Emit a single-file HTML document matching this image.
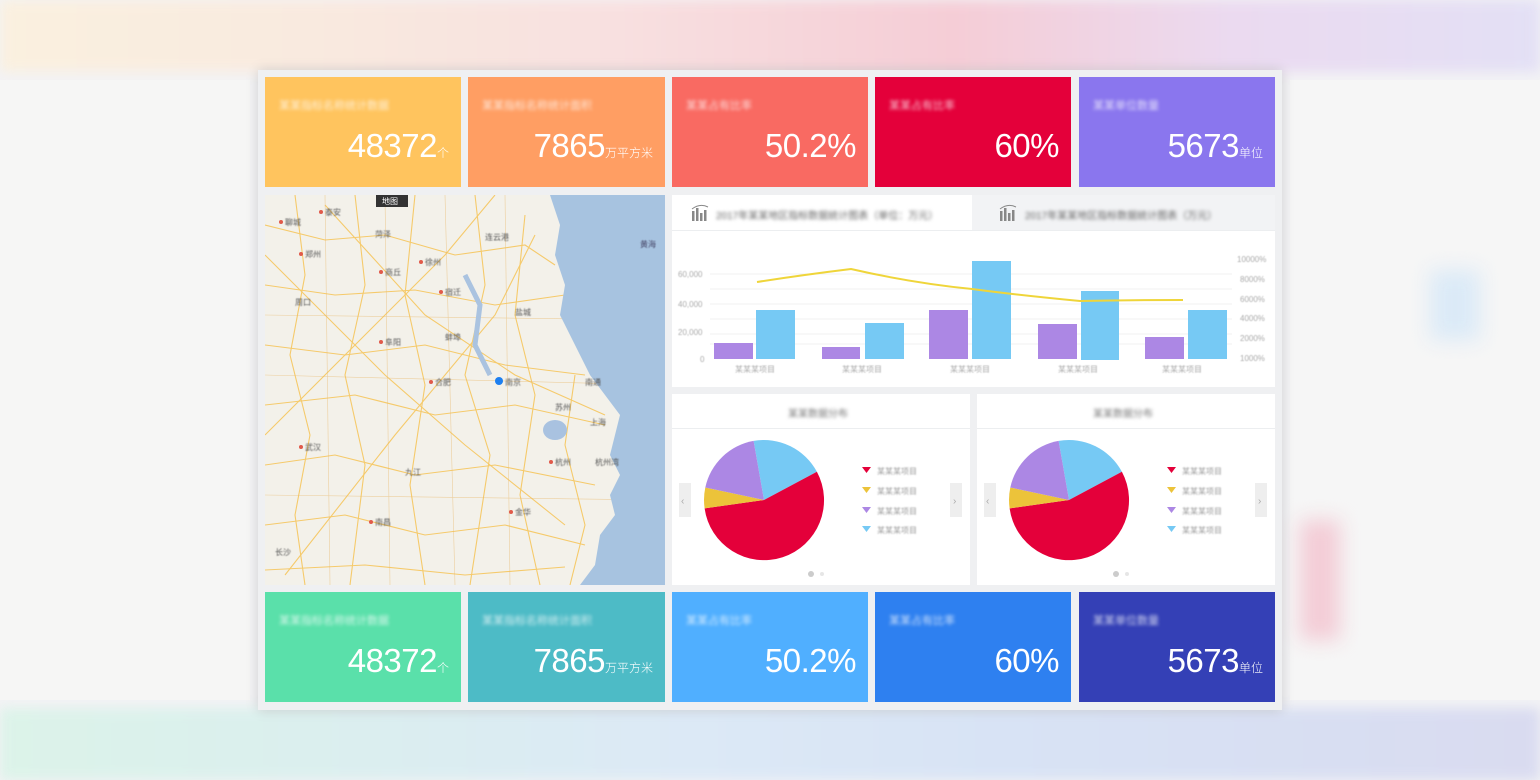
<!DOCTYPE html>
<html><head><meta charset="utf-8"><style>
*{margin:0;padding:0;box-sizing:border-box}
body{width:1540px;height:780px;overflow:hidden;background:#f3f3f5;font-family:"Liberation Sans","Noto Sans CJK SC",sans-serif;position:relative}
.abs{position:absolute}
.bl{filter:blur(1.6px)}
.tile{position:absolute;color:#fff;width:197px;height:110px}
.tile .lb{position:absolute;left:14px;top:20px;font-size:11px;opacity:.75;filter:blur(1.6px)}
.tile .v{position:absolute;right:12px;top:50px;font-size:33px;font-weight:300;white-space:nowrap;letter-spacing:-0.5px}
.tile .v small{font-size:12px;letter-spacing:0}
.panel{position:absolute;background:#fff}
.ax{position:absolute;font-size:8px;color:#aaa;filter:blur(.6px)}
</style></head><body>
<!-- blurred background strips -->
<div class="abs" style="left:0;top:0;width:1540px;height:72px;background:linear-gradient(90deg,#faf0df 0%,#f9eadf 20%,#f8e0e0 40%,#f5cdd6 62%,#ebdaf0 80%,#e3e0f5 100%);filter:blur(6px)"></div>
<div class="abs" style="left:0;top:708px;width:1540px;height:72px;background:linear-gradient(90deg,#dcf3e9 0%,#dbefee 20%,#dce9f6 45%,#d8e3f5 65%,#d9dbf0 100%);filter:blur(6px)"></div>
<div class="abs" style="left:0;top:80px;width:250px;height:620px;background:#f6f6f5"></div>
<div class="abs" style="left:1290px;top:80px;width:250px;height:620px;background:#f6f6f6"></div>
<div class="abs bl" style="left:1300px;top:520px;width:40px;height:120px;background:#f3ccd6;filter:blur(10px)"></div>
<div class="abs bl" style="left:1430px;top:270px;width:50px;height:70px;background:#dbeaf7;filter:blur(10px)"></div>
<!-- card -->
<div class="abs" style="left:258px;top:70px;width:1024px;height:640px;background:#eff0f2;box-shadow:0 0 12px rgba(0,0,0,.15)"></div>

<div class="tile" style="left:265px;top:77px;width:196px;background:#ffc45e"><div class="lb">某某指标名称统计数据</div><div class="v">48372<small>个</small></div></div>
<div class="tile" style="left:468px;top:77px;background:#ff9e63"><div class="lb">某某指标名称统计面积</div><div class="v">7865<small>万平方米</small></div></div>
<div class="tile" style="left:672px;top:77px;width:196px;background:#f96a62"><div class="lb">某某占有比率</div><div class="v">50.2%</div></div>
<div class="tile" style="left:875px;top:77px;width:196px;background:#e4003a"><div class="lb">某某占有比率</div><div class="v">60%</div></div>
<div class="tile" style="left:1079px;top:77px;width:196px;background:#8a76ee"><div class="lb">某某单位数量</div><div class="v">5673<small>单位</small></div></div>

<div class="tile" style="left:265px;top:592px;width:196px;background:#5ae0aa"><div class="lb">某某指标名称统计数据</div><div class="v">48372<small>个</small></div></div>
<div class="tile" style="left:468px;top:592px;background:#4dbbc6"><div class="lb">某某指标名称统计面积</div><div class="v">7865<small>万平方米</small></div></div>
<div class="tile" style="left:672px;top:592px;width:196px;background:#50afff"><div class="lb">某某占有比率</div><div class="v">50.2%</div></div>
<div class="tile" style="left:875px;top:592px;width:196px;background:#2e80f0"><div class="lb">某某占有比率</div><div class="v">60%</div></div>
<div class="tile" style="left:1079px;top:592px;width:196px;background:#3440b6"><div class="lb">某某单位数量</div><div class="v">5673<small>单位</small></div></div>

<!-- map -->
<svg class="abs" style="left:265px;top:195px" width="400" height="390" viewBox="0 0 400 390">
<rect width="400" height="390" fill="#f3f1ea"/>
<g fill="none" stroke="#f6c65e" stroke-width="1.1" opacity=".9">
<path d="M0 30 L60 45 L120 40 L190 60 L260 50 L290 70"/><path d="M0 90 L70 100 L150 95 L230 110 L300 100"/><path d="M0 150 L80 160 L160 150 L240 170 L320 180"/><path d="M0 210 L90 200 L170 220 L250 210 L340 230"/><path d="M0 270 L70 260 L150 280 L230 270 L330 290"/><path d="M0 330 L80 320 L160 340 L240 330 L320 350"/><path d="M0 375 L100 370 L200 380 L300 372"/>
<path d="M30 0 L40 80 L25 160 L45 240 L30 320 L40 390"/><path d="M90 0 L100 90 L80 180 L100 270 L85 390"/><path d="M150 0 L140 100 L160 190 L145 290 L160 390"/><path d="M210 0 L220 90 L200 180 L225 260 L205 390"/><path d="M260 20 L250 120 L270 200 L255 300 L275 390"/><path d="M310 180 L300 250 L320 330 L305 390"/>
<path d="M0 60 L120 180 L200 250 L300 330"/><path d="M20 380 L130 240 L230 120 L270 40"/><path d="M60 10 L160 120 L250 180 L340 220"/><path d="M0 240 L110 130 L180 60 L230 0"/>
</g>
<g fill="none" stroke="#e8b86a" stroke-width=".6" opacity=".6">
<path d="M0 120 L400 125"/><path d="M0 180 L400 190"/><path d="M0 300 L400 305"/><path d="M120 0 L125 390"/><path d="M180 0 L190 390"/><path d="M60 0 L65 390"/><path d="M240 0 L245 390"/>
</g>
<path d="M285 0 L295 30 L290 60 L300 90 L295 120 L310 150 L325 180 L340 200 L355 220 L350 240 L345 260 L355 280 L345 300 L350 320 L335 340 L330 370 L315 390 L400 390 L400 0 Z" fill="#a7c3e0"/>
<ellipse cx="290" cy="235" rx="12" ry="10" fill="#a9c2e0"/>
<path d="M200 80 L215 110 L210 150 L225 180" stroke="#aac3e0" stroke-width="5" fill="none"/>
<rect x="111" y="0" width="32" height="12" fill="#333"/>
<text x="117" y="9" font-size="8" fill="#fff">地图</text>
<circle cx="234" cy="186" r="4" fill="#1d7ff0"/>
<g font-size="8" fill="#555" style="filter:blur(.5px)">
<text x="20" y="30">聊城</text><text x="60" y="20">泰安</text><text x="110" y="42">菏泽</text><text x="40" y="62">郑州</text><text x="120" y="80">商丘</text><text x="160" y="70">徐州</text><text x="220" y="45">连云港</text><text x="30" y="110">周口</text><text x="180" y="100">宿迁</text><text x="250" y="120">盐城</text><text x="120" y="150">阜阳</text><text x="180" y="145">蚌埠</text><text x="170" y="190">合肥</text><text x="240" y="190">南京</text><text x="320" y="190">南通</text><text x="290" y="215">苏州</text><text x="325" y="230">上海</text><text x="40" y="255">武汉</text><text x="290" y="270">杭州</text><text x="330" y="270">杭州湾</text><text x="140" y="280">九江</text><text x="250" y="320">金华</text><text x="110" y="330">南昌</text><text x="10" y="360">长沙</text><text x="375" y="52" fill="#446">黄海</text>
</g>
<g fill="#e05a4a"><circle cx="16" cy="27" r="2"/><circle cx="56" cy="17" r="2"/><circle cx="36" cy="59" r="2"/><circle cx="116" cy="77" r="2"/><circle cx="156" cy="67" r="2"/><circle cx="176" cy="97" r="2"/><circle cx="116" cy="147" r="2"/><circle cx="166" cy="187" r="2"/><circle cx="36" cy="252" r="2"/><circle cx="286" cy="267" r="2"/><circle cx="106" cy="327" r="2"/><circle cx="246" cy="317" r="2"/></g>
</svg>

<!-- bar chart panel -->
<div class="panel" style="left:672px;top:195px;width:603px;height:192px"></div>
<div class="abs" style="left:972px;top:195px;width:303px;height:35px;background:#f2f3f5"></div>
<div class="abs" style="left:672px;top:230px;width:603px;height:1px;background:#eceef0"></div>
<svg class="abs" style="left:690px;top:204px" width="20" height="18"><g fill="#888"><rect x="2" y="7" width="2.5" height="10"/><rect x="6" y="4" width="2.5" height="13"/><rect x="10" y="9" width="2.5" height="8"/><rect x="14" y="6" width="2.5" height="11"/></g><path d="M2 5 Q10 -1 18 3" stroke="#888" fill="none"/></svg>
<svg class="abs" style="left:998px;top:204px" width="20" height="18"><g fill="#888"><rect x="2" y="7" width="2.5" height="10"/><rect x="6" y="4" width="2.5" height="13"/><rect x="10" y="9" width="2.5" height="8"/><rect x="14" y="6" width="2.5" height="11"/></g><path d="M2 5 Q10 -1 18 3" stroke="#888" fill="none"/></svg>
<div class="abs bl" style="left:716px;top:207px;font-size:10px;color:#666">2017年某某地区指标数据统计图表（单位：万元）</div>
<div class="abs bl" style="left:1025px;top:207px;font-size:10px;color:#666">2017年某某地区指标数据统计图表（万元）</div>
<svg class="abs" style="left:672px;top:231px" width="603" height="156">
<g stroke="#f0f0f0"><line x1="38" y1="43" x2="560" y2="43"/><line x1="38" y1="58" x2="560" y2="58"/><line x1="38" y1="73" x2="560" y2="73"/><line x1="38" y1="88" x2="560" y2="88"/><line x1="38" y1="103" x2="560" y2="103"/><line x1="38" y1="113" x2="560" y2="113"/></g>
<g fill="#ac87e4"><rect x="42" y="112" width="39" height="16"/><rect x="150" y="116" width="38" height="12"/><rect x="257" y="79" width="39" height="49"/><rect x="366" y="93" width="39" height="35"/><rect x="473" y="106" width="39" height="22"/></g>
<g fill="#76c9f4"><rect x="84" y="79" width="39" height="49"/><rect x="193" y="92" width="39" height="36"/><rect x="300" y="30" width="39" height="98"/><rect x="409" y="60" width="38" height="69"/><rect x="516" y="79" width="39" height="49"/></g>
<path d="M85 51 Q130 44 179 38 Q240 52 300 58 Q345 64 408 70 Q460 69 511 69" fill="none" stroke="#efd53a" stroke-width="2"/>
</svg>
<div class="ax" style="left:678px;top:270px">60,000</div><div class="ax" style="left:678px;top:300px">40,000</div><div class="ax" style="left:678px;top:328px">20,000</div><div class="ax" style="left:700px;top:355px">0</div>
<div class="ax" style="left:1237px;top:255px">10000%</div><div class="ax" style="left:1240px;top:275px">8000%</div><div class="ax" style="left:1240px;top:295px">6000%</div><div class="ax" style="left:1240px;top:314px">4000%</div><div class="ax" style="left:1240px;top:334px">2000%</div><div class="ax" style="left:1240px;top:354px">1000%</div>
<div class="ax" style="left:735px;top:364px">某某某项目</div><div class="ax" style="left:842px;top:364px">某某某项目</div><div class="ax" style="left:950px;top:364px">某某某项目</div><div class="ax" style="left:1058px;top:364px">某某某项目</div><div class="ax" style="left:1162px;top:364px">某某某项目</div>

<!-- pie panels -->
<div class="panel" style="left:672px;top:394px;width:298px;height:191px"></div>
<div class="panel" style="left:977px;top:394px;width:298px;height:191px"></div>
<div class="abs" style="left:672px;top:428px;width:298px;height:1px;background:#eceef0"></div>
<div class="abs" style="left:977px;top:428px;width:298px;height:1px;background:#eceef0"></div>
<div class="abs bl" style="left:788px;top:405px;font-size:10px;color:#777">某某数据分布</div>
<div class="abs bl" style="left:1093px;top:405px;font-size:10px;color:#777">某某数据分布</div>

<svg class="abs" style="left:672px;top:429px" width="298" height="156">
<g transform="translate(92,71)">
<path d="M0 0 L-10.4 -59.1 A60 60 0 0 1 52.9 -28.2 Z" fill="#76c9f4"/>
<path d="M0 0 L52.9 -28.2 A60 60 0 1 1 -59.4 8.4 Z" fill="#e4003a"/>
<path d="M0 0 L-59.4 8.4 A60 60 0 0 1 -58.7 -12.5 Z" fill="#ecc33a"/>
<path d="M0 0 L-58.7 -12.5 A60 60 0 0 1 -10.4 -59.1 Z" fill="#ac87e4"/>
</g>
<rect x="7" y="54" width="12" height="34" fill="#eee"/><text x="9" y="75" font-size="10" fill="#aaa">‹</text>
<rect x="278" y="54" width="12" height="34" fill="#eee"/><text x="281" y="75" font-size="10" fill="#aaa">›</text>
<g><path d="M190 38 h9 l-4.5 6z" fill="#e4003a"/><path d="M190 58 h9 l-4.5 6z" fill="#ecc33a"/><path d="M190 78 h9 l-4.5 6z" fill="#ac87e4"/><path d="M190 97 h9 l-4.5 6z" fill="#76c9f4"/></g>
<g font-size="8" fill="#999" style="filter:blur(.9px)"><text x="205" y="45">某某某项目</text><text x="205" y="65">某某某项目</text><text x="205" y="85">某某某项目</text><text x="205" y="104">某某某项目</text></g>
<circle cx="139" cy="145" r="3" fill="#ccc"/><circle cx="150" cy="145" r="2" fill="#e6e6e6"/>
</svg>
<svg class="abs" style="left:977px;top:429px" width="298" height="156">
<g transform="translate(92,71)">
<path d="M0 0 L-10.4 -59.1 A60 60 0 0 1 52.9 -28.2 Z" fill="#76c9f4"/>
<path d="M0 0 L52.9 -28.2 A60 60 0 1 1 -59.4 8.4 Z" fill="#e4003a"/>
<path d="M0 0 L-59.4 8.4 A60 60 0 0 1 -58.7 -12.5 Z" fill="#ecc33a"/>
<path d="M0 0 L-58.7 -12.5 A60 60 0 0 1 -10.4 -59.1 Z" fill="#ac87e4"/>
</g>
<rect x="7" y="54" width="12" height="34" fill="#eee"/><text x="9" y="75" font-size="10" fill="#aaa">‹</text>
<rect x="278" y="54" width="12" height="34" fill="#eee"/><text x="281" y="75" font-size="10" fill="#aaa">›</text>
<g><path d="M190 38 h9 l-4.5 6z" fill="#e4003a"/><path d="M190 58 h9 l-4.5 6z" fill="#ecc33a"/><path d="M190 78 h9 l-4.5 6z" fill="#ac87e4"/><path d="M190 97 h9 l-4.5 6z" fill="#76c9f4"/></g>
<g font-size="8" fill="#999" style="filter:blur(.9px)"><text x="205" y="45">某某某项目</text><text x="205" y="65">某某某项目</text><text x="205" y="85">某某某项目</text><text x="205" y="104">某某某项目</text></g>
<circle cx="139" cy="145" r="3" fill="#ccc"/><circle cx="150" cy="145" r="2" fill="#e6e6e6"/>
</svg>
</body></html>
